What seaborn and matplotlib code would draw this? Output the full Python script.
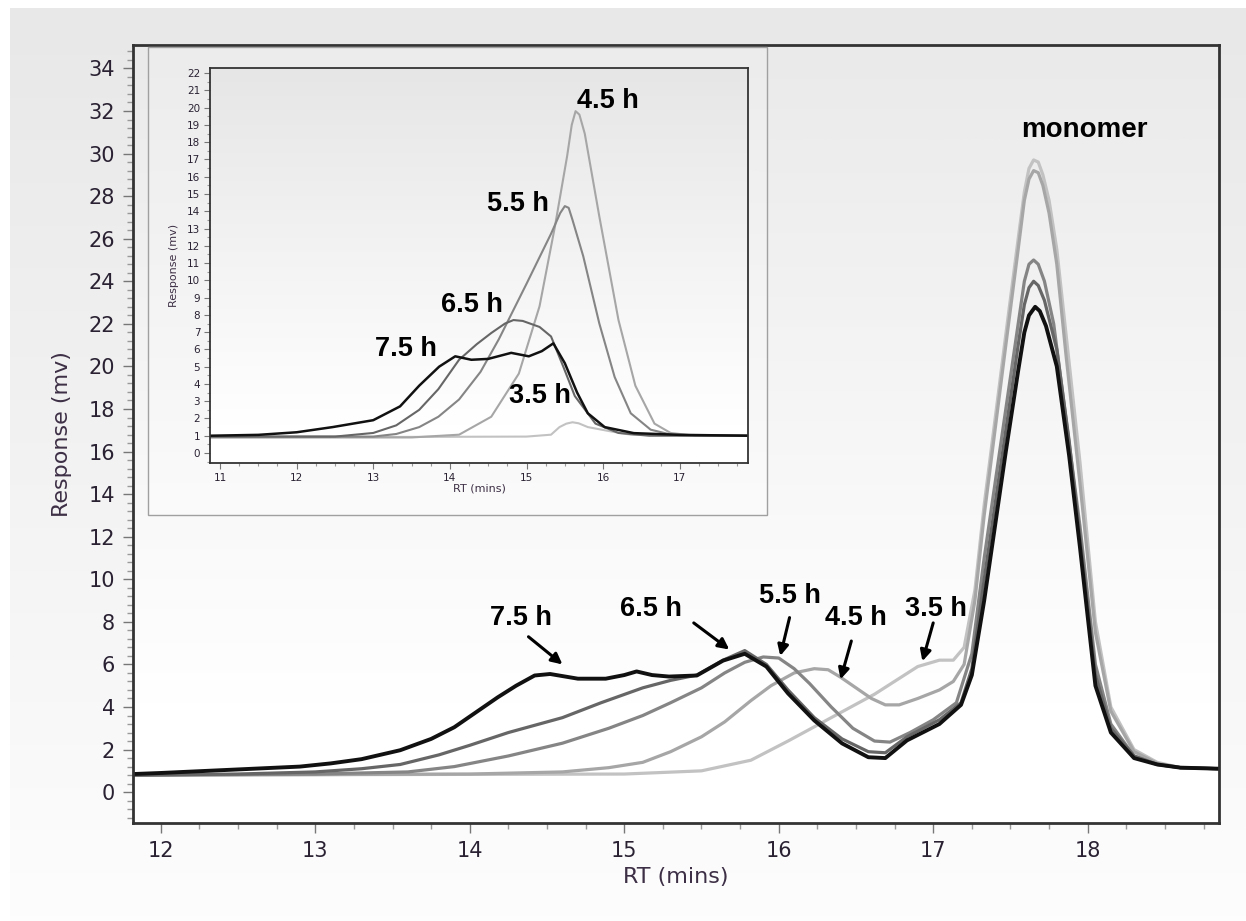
import numpy as np
import pandas as pd
import matplotlib
matplotlib.use("Agg")
import matplotlib.pyplot as plt
from matplotlib.colors import LinearSegmentedColormap
from matplotlib.ticker import MultipleLocator
import seaborn as sns

sns.set_theme(style="white")
plt.rcParams['font.family'] = ['DejaVu Sans']

# ---------------- data: main chromatogram ----------------
series_names = ["3.5 h", "4.5 h", "5.5 h", "6.5 h", "7.5 h"]

x_35 = [11.82, 15.0, 15.5, 15.82, 16.06, 16.34, 16.62, 16.9, 17.04, 17.13, 17.2, 17.27, 17.33, 17.4, 17.47,
        17.55, 17.59, 17.62, 17.65, 17.68, 17.71, 17.75, 17.8, 17.86, 17.95, 18.05, 18.15, 18.3, 18.45, 18.6, 18.85]
y_35 = [0.8, 0.85, 1.0, 1.5, 2.4, 3.5, 4.6, 5.9, 6.2, 6.2, 6.8, 9.5, 13.5, 17.5, 21.5,
        26.0, 28.2, 29.3, 29.7, 29.6, 29.0, 27.8, 25.5, 21.5, 15.5, 8.0, 4.0, 2.0, 1.4, 1.15, 1.1]

x_45 = [11.82, 14.0, 14.6, 14.9, 15.12, 15.3, 15.5, 15.65, 15.82, 15.95, 16.1, 16.23, 16.32, 16.4, 16.5,
        16.6, 16.69, 16.78, 16.9, 17.04, 17.13, 17.2, 17.27, 17.33, 17.4, 17.47, 17.55, 17.59, 17.62, 17.65,
        17.68, 17.71, 17.75, 17.8, 17.86, 17.95, 18.05, 18.15, 18.3, 18.45, 18.6, 18.85]
y_45 = [0.8, 0.85, 0.95, 1.15, 1.4, 1.9, 2.6, 3.3, 4.3, 5.0, 5.6, 5.8, 5.75, 5.4, 4.9,
        4.4, 4.1, 4.1, 4.4, 4.8, 5.2, 6.0, 9.0, 13.0, 17.0, 21.0, 25.5, 27.8, 28.8, 29.2,
        29.1, 28.5, 27.2, 24.8, 20.5, 14.5, 7.5, 3.8, 1.9, 1.35, 1.15, 1.1]

x_55 = [11.82, 13.0, 13.6, 13.9, 14.25, 14.6, 14.9, 15.12, 15.3, 15.5, 15.65, 15.78, 15.9, 16.0, 16.1,
        16.2, 16.34, 16.48, 16.62, 16.72, 16.85, 17.0, 17.15, 17.25, 17.33, 17.4, 17.47, 17.55, 17.59,
        17.62, 17.65, 17.68, 17.72, 17.78, 17.86, 17.95, 18.05, 18.15, 18.3, 18.45, 18.6, 18.85]
y_55 = [0.8, 0.85, 0.95, 1.2, 1.7, 2.3, 3.0, 3.6, 4.2, 4.9, 5.6, 6.1, 6.35, 6.3, 5.8,
        5.1, 4.0, 3.0, 2.4, 2.35, 2.8, 3.4, 4.2, 6.5, 11.0, 14.5, 18.0, 22.0, 24.0,
        24.8, 25.0, 24.8, 24.0, 22.0, 17.5, 12.5, 6.0, 3.2, 1.7, 1.3, 1.15, 1.1]

x_65 = [11.82, 12.5, 13.0, 13.3, 13.55, 13.8, 14.0, 14.25, 14.6, 14.85, 15.12, 15.3, 15.47, 15.64, 15.78,
        15.92, 16.06, 16.23, 16.41, 16.58, 16.69, 16.83, 17.04, 17.18, 17.25, 17.33, 17.4, 17.47, 17.55,
        17.59, 17.62, 17.65, 17.68, 17.72, 17.8, 17.88, 17.95, 18.05, 18.15, 18.3, 18.45, 18.6, 18.85]
y_65 = [0.8, 0.85, 0.95, 1.1, 1.3, 1.75, 2.2, 2.8, 3.5, 4.2, 4.9, 5.25, 5.5, 6.2, 6.65,
        6.0, 4.8, 3.5, 2.5, 1.9, 1.85, 2.6, 3.4, 4.2, 5.8, 10.0, 13.5, 17.0, 21.0,
        22.9, 23.7, 24.0, 23.8, 23.1, 20.8, 16.5, 12.0, 5.5, 3.0, 1.7, 1.3, 1.15, 1.1]

x_75 = [11.82, 12.0, 12.3, 12.6, 12.9, 13.1, 13.3, 13.55, 13.75, 13.9, 14.05, 14.18, 14.3, 14.42, 14.52,
        14.7, 14.88, 15.0, 15.08, 15.18, 15.29, 15.47, 15.64, 15.78, 15.92, 16.06, 16.23, 16.41, 16.58,
        16.69, 16.83, 17.04, 17.18, 17.25, 17.33, 17.4, 17.47, 17.55, 17.59, 17.62, 17.66, 17.69, 17.73,
        17.8, 17.88, 17.95, 18.05, 18.15, 18.3, 18.45, 18.6, 18.85]
y_75 = [0.85, 0.9, 1.0, 1.1, 1.2, 1.35, 1.55, 1.97, 2.5, 3.05, 3.8, 4.45, 5.0, 5.48, 5.55,
        5.33, 5.33, 5.5, 5.67, 5.5, 5.43, 5.48, 6.18, 6.5, 5.9, 4.64, 3.37, 2.29, 1.64,
        1.6, 2.43, 3.2, 4.1, 5.5, 9.0, 12.5, 16.0, 19.8, 21.6, 22.4, 22.8, 22.6, 21.9,
        20.0, 15.8, 11.5, 5.0, 2.8, 1.6, 1.3, 1.15, 1.1]

# ---------------- data: inset chromatogram ----------------
ix_35 = [10.87, 15.0, 15.32, 15.43, 15.52, 15.6, 15.68, 15.8, 16.1, 16.36, 17.89]
iy_35 = [0.9, 0.95, 1.06, 1.5, 1.7, 1.78, 1.72, 1.5, 1.25, 1.06, 1.0]

ix_45 = [10.87, 13.5, 14.12, 14.54, 14.9, 15.17, 15.37, 15.53, 15.59, 15.64, 15.69, 15.76, 15.95, 16.2,
         16.42, 16.67, 16.88, 17.2, 17.89]
iy_45 = [0.9, 0.9, 1.06, 2.1, 4.6, 8.5, 13.1, 17.2, 19.0, 19.8, 19.6, 18.5, 13.7, 7.7,
         3.9, 1.7, 1.16, 1.0, 1.0]

ix_55 = [10.87, 13.0, 13.3, 13.6, 13.85, 14.12, 14.4, 14.64, 15.0, 15.32, 15.44, 15.5, 15.55, 15.6,
         15.74, 15.95, 16.15, 16.36, 16.62, 16.9, 17.89]
iy_55 = [0.95, 0.95, 1.1, 1.5, 2.1, 3.1, 4.7, 6.6, 9.8, 12.7, 13.9, 14.3, 14.2, 13.5,
         11.4, 7.5, 4.4, 2.3, 1.35, 1.05, 1.0]

ix_65 = [10.87, 12.5, 13.0, 13.3, 13.6, 13.85, 14.12, 14.35, 14.54, 14.72, 14.83, 14.95, 15.17, 15.32,
         15.48, 15.63, 15.9, 16.2, 16.6, 17.89]
iy_65 = [0.95, 0.95, 1.16, 1.6, 2.5, 3.7, 5.4, 6.3, 6.95, 7.5, 7.7, 7.65, 7.3, 6.75,
         5.0, 3.3, 1.7, 1.16, 1.0, 1.0]

ix_75 = [10.87, 11.5, 12.0, 12.47, 13.0, 13.35, 13.6, 13.86, 14.07, 14.28, 14.5, 14.8, 15.03, 15.2,
         15.35, 15.5, 15.66, 15.8, 16.02, 16.4, 17.0, 17.89]
iy_75 = [1.0, 1.05, 1.2, 1.5, 1.9, 2.7, 3.9, 5.0, 5.6, 5.4, 5.45, 5.8, 5.6, 5.9,
         6.35, 5.2, 3.5, 2.3, 1.5, 1.15, 1.05, 1.0]

# annotation positions (label text, label x/y, arrow tail and tip x/y)
main_labels = ["7.5 h", "6.5 h", "5.5 h", "4.5 h", "3.5 h"]
main_label_x = [14.33, 15.17, 16.07, 16.50, 17.02]
main_label_y = [8.2, 8.6, 9.2, 8.2, 8.6]
arrow_start_x = [14.38, 15.45, 16.07, 16.47, 17.00]
arrow_start_y = [7.3, 7.95, 8.2, 7.1, 7.95]
arrow_tip_x = [14.60, 15.68, 16.01, 16.40, 16.93]
arrow_tip_y = [6.0, 6.7, 6.4, 5.3, 6.15]

inset_labels = ["4.5 h", "5.5 h", "6.5 h", "7.5 h", "3.5 h"]
inset_label_x = [16.06, 14.89, 14.29, 13.43, 15.17]
inset_label_y = [20.4, 14.4, 8.6, 6.0, 3.3]

colors = {"3.5 h": "#c2c2c2", "4.5 h": "#a6a6a6", "5.5 h": "#858585", "6.5 h": "#666666", "7.5 h": "#111111"}
main_lw = {"3.5 h": 2.3, "4.5 h": 2.3, "5.5 h": 2.3, "6.5 h": 2.3, "7.5 h": 2.8}

main_df = pd.concat([
    pd.DataFrame({"RT": x, "Response": y, "series": n})
    for n, x, y in zip(series_names, [x_35, x_45, x_55, x_65, x_75], [y_35, y_45, y_55, y_65, y_75])
])
inset_df = pd.concat([
    pd.DataFrame({"RT": x, "Response": y, "series": n})
    for n, x, y in zip(series_names, [ix_35, ix_45, ix_55, ix_65, ix_75], [iy_35, iy_45, iy_55, iy_65, iy_75])
])

# ---------------- figure ----------------
W, H = 1246, 921
fig = plt.figure(figsize=(W / 100, H / 100), dpi=100)
fig.patch.set_facecolor("white")


def px_rect(l, t, r, b):
    return [l / W, 1 - b / H, (r - l) / W, (b - t) / H]


def gradient_axes(rect, top, bottom, z, stop=1.0):
    a = fig.add_axes(rect, zorder=z)
    if stop < 1:
        cmap = LinearSegmentedColormap.from_list("g", [(0, bottom), (1 - stop, bottom), (1, top)])
    else:
        cmap = LinearSegmentedColormap.from_list("g", [bottom, top])
    a.imshow(np.linspace(0, 1, 256).reshape(-1, 1), cmap=cmap, aspect="auto",
             extent=[0, 1, 0, 1], origin="lower", interpolation="bicubic")
    a.set_axis_off()
    return a


# page background
gradient_axes(px_rect(10, 8, W, H), "#e8e8e8", "#fdfdfd", 0)
# main plot background
gradient_axes(px_rect(133, 45, 1219, 823), "#eaeaea", "#ffffff", 1, stop=0.85)

ax = fig.add_axes(px_rect(133, 45, 1219, 823), zorder=2)
ax.set_facecolor("none")
for n in series_names:
    sns.lineplot(data=main_df[main_df.series == n], x="RT", y="Response", ax=ax,
                 color=colors[n], lw=main_lw[n], errorbar=None, legend=False)
ax.set_xlim(11.82, 18.85)
ax.set_ylim(-1.45, 35.1)
ax.xaxis.set_major_locator(MultipleLocator(1))
ax.xaxis.set_minor_locator(MultipleLocator(0.25))
ax.yaxis.set_major_locator(MultipleLocator(2))
ax.yaxis.set_minor_locator(MultipleLocator(0.4))
ax.tick_params(axis="both", which="major", direction="out", length=7, width=1, color="#777777",
               labelsize=15, labelcolor="#2a2233", pad=6, left=True, bottom=True)
ax.tick_params(axis="both", which="minor", direction="out", length=4, width=1, color="#999999",
               left=True, bottom=True)
for s in ax.spines.values():
    s.set_color("#333333")
    s.set_linewidth(2.0)
ax.set_xlabel("RT (mins)", fontsize=16, color="#3d2f45")
ax.set_ylabel("Response (mv)", fontsize=16, color="#3d2f45")
ax.xaxis.set_label_coords(0.5, -0.057)
ax.yaxis.set_label_coords(-0.056, 0.5)

for lab, lx, ly, sx, sy, tx, ty in zip(main_labels, main_label_x, main_label_y,
                                       arrow_start_x, arrow_start_y, arrow_tip_x, arrow_tip_y):
    ax.text(lx, ly, lab, ha="center", va="center", fontsize=19.5, fontweight="bold",
            family="Liberation Sans", color="black")
    ax.annotate("", xy=(tx, ty), xytext=(sx, sy),
                arrowprops=dict(arrowstyle="-|>", color="black", lw=2.2, mutation_scale=16,
                                shrinkA=0, shrinkB=0))
ax.text(17.98, 31.1, "monomer", ha="center", va="center", fontsize=20, fontweight="bold",
        family="Liberation Sans", color="black")

# inset panel
gradient_axes(px_rect(148, 47, 767, 515), "#ececec", "#fbfbfb", 3)
fig.add_artist(plt.Rectangle((148 / W, 1 - 515 / H), (767 - 148) / W, (515 - 47) / H,
                             transform=fig.transFigure, fill=False, edgecolor="#a0a0a0", lw=1.0, zorder=3.2))
gradient_axes(px_rect(210, 68, 748, 463), "#e6e6e6", "#ffffff", 3.5, stop=0.9)

iax = fig.add_axes(px_rect(210, 68, 748, 463), zorder=4)
iax.set_facecolor("none")
for n in series_names:
    sns.lineplot(data=inset_df[inset_df.series == n], x="RT", y="Response", ax=iax,
                 color=colors[n], lw=1.5 if n != "7.5 h" else 1.8, errorbar=None, legend=False)
iax.set_xlim(10.87, 17.89)
iax.set_ylim(-0.58, 22.3)
iax.xaxis.set_major_locator(MultipleLocator(1))
iax.xaxis.set_minor_locator(MultipleLocator(0.25))
iax.yaxis.set_major_locator(MultipleLocator(1))
iax.yaxis.set_minor_locator(MultipleLocator(0.5))
iax.tick_params(axis="both", which="major", direction="out", length=4, width=0.8, color="#777777",
                labelsize=7.5, labelcolor="#2a2233", pad=3, left=True, bottom=True)
iax.tick_params(axis="both", which="minor", direction="out", length=2, width=0.8, color="#999999",
                left=True, bottom=True)
for s in iax.spines.values():
    s.set_color("#333333")
    s.set_linewidth(1.3)
iax.set_xlabel("RT (mins)", fontsize=8, color="#3d2f45")
iax.set_ylabel("Response (mv)", fontsize=8, color="#3d2f45")
iax.xaxis.set_label_coords(0.5, -0.053)
iax.yaxis.set_label_coords(-0.058, 0.5)
for lab, lx, ly in zip(inset_labels, inset_label_x, inset_label_y):
    iax.text(lx, ly, lab, ha="center", va="center", fontsize=19.5, fontweight="bold",
             family="Liberation Sans", color="black")

fig.savefig("out.png", dpi=100)
